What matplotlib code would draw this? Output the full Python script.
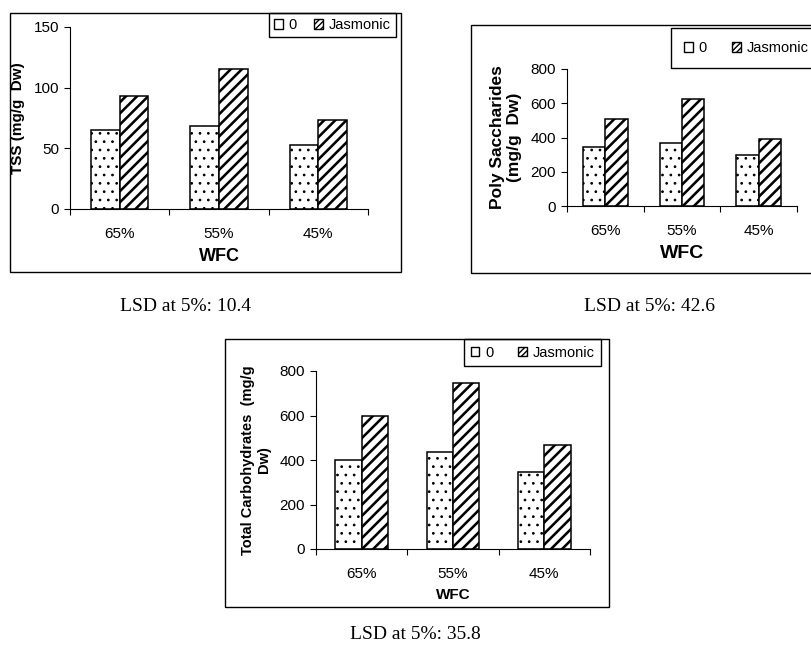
import matplotlib
matplotlib.use("Agg")
import matplotlib.pyplot as plt
from matplotlib.patches import Rectangle, Patch
import numpy as np

plt.rcParams['font.family'] = ['Liberation Sans', 'DejaVu Sans']

# Data
categories = ["65%", "55%", "45%"]
series_names = ["0", "Jasmonic"]
tss_0 = [65, 68, 53]
tss_jas = [93, 115, 73]
poly_0 = [343, 370, 295]
poly_jas = [510, 625, 392]
total_0 = [400, 437, 346]
total_jas = [600, 748, 467]
lsd_texts = ["LSD at 5%: 10.4", "LSD at 5%: 42.6", "LSD at 5%: 35.8"]

W, H = 811, 645
fig = plt.figure(figsize=(W / 100, H / 100), dpi=100)


def fx(px):
    return px / W


def fy(py):
    return 1 - py / H


def frame(x0, y0, x1, y1):
    fig.add_artist(Rectangle((fx(x0), fy(y1)), fx(x1 - x0), (y1 - y0) / H,
                             transform=fig.transFigure, fill=False,
                             edgecolor="black", linewidth=1.0))


def panel(box, v0, vj, ymax, step, ylabel, ylsize, xlsize, leg, lpad, lcol):
    x0, y0, x1, y1 = box
    ax = fig.add_axes([fx(x0), fy(y1), fx(x1 - x0), (y1 - y0) / H])
    x = np.arange(len(categories))
    bw = 0.29
    # small dots for the control, thick diagonal stripes for jasmonic
    with plt.rc_context({'hatch.linewidth': 0.75}):
        ax.bar(x - bw / 2, v0, bw, color="white", edgecolor="black",
               hatch="..", linewidth=1.1)
    with plt.rc_context({'hatch.linewidth': 1.85}):
        ax.bar(x + bw / 2, vj, bw, color="white", edgecolor="black",
               hatch="///", linewidth=1.1)
    ax.set_xlim(-0.5, len(categories) - 0.5)
    ax.set_ylim(0, ymax)
    ax.set_yticks(np.arange(0, ymax + 1, step))
    ax.set_xticks(np.arange(-0.5, len(categories), 1.0))
    ax.set_xticklabels([])
    ax.set_xticks(x, minor=True)
    ax.set_xticklabels(categories, minor=True)
    ax.tick_params(axis="x", which="minor", length=0, pad=13, labelsize=11)
    ax.tick_params(axis="x", which="major", direction="out", length=4)
    ax.tick_params(axis="y", direction="out", length=4, pad=4, labelsize=11)
    for s in ["top", "right"]:
        ax.spines[s].set_visible(False)
    ax.set_ylabel(ylabel, fontsize=ylsize, fontweight="bold", labelpad=6)
    ax.set_xlabel("WFC", fontsize=xlsize, fontweight="bold", labelpad=5)
    with plt.rc_context({'hatch.linewidth': 2.4}):
        handles = [Patch(facecolor="white", edgecolor="black", linewidth=1.0),
                   Patch(facecolor="white", edgecolor="black", hatch="//////",
                         linewidth=1.0)]
    lg = ax.legend(handles, series_names, loc="upper left", ncol=2,
                   bbox_to_anchor=(fx(leg[0]), fy(leg[1])),
                   bbox_transform=fig.transFigure, borderaxespad=0,
                   fontsize=10.5, handlelength=0.6, handleheight=0.6,
                   handletextpad=0.4, columnspacing=lcol, borderpad=lpad,
                   fancybox=False, edgecolor="black", framealpha=1)
    lg.get_frame().set_linewidth(1.0)
    return ax


# Panel 1: TSS
frame(10, 13, 401, 272)
panel((70, 27, 368, 209), tss_0, tss_jas, 150, 50, "TSS (mg/g  Dw)",
      11, 13, (269, 13), 0.35, 1.2)

# Panel 2: Poly saccharides
frame(471, 25, 830, 273)
panel((567, 69, 797, 206), poly_0, poly_jas, 800, 200,
      "Poly Saccharides\n(mg/g  Dw)", 12.5, 14, (671, 28), 0.9, 1.7)

# Panel 3: Total carbohydrates
frame(225, 339, 609, 607)
panel((316, 371, 590, 549), total_0, total_jas, 800, 200,
      "Total Carbohydrates  (mg/g\nDw)", 10.5, 11, (464, 339), 0.45, 1.7)

# LSD notes
for (cx, by), t in zip([(186, 311), (650, 311), (415, 639)], lsd_texts):
    fig.text(fx(cx), fy(by), t, ha="center", va="baseline",
             family="Liberation Serif", fontsize=14)

fig.savefig("out.png", dpi=100)
